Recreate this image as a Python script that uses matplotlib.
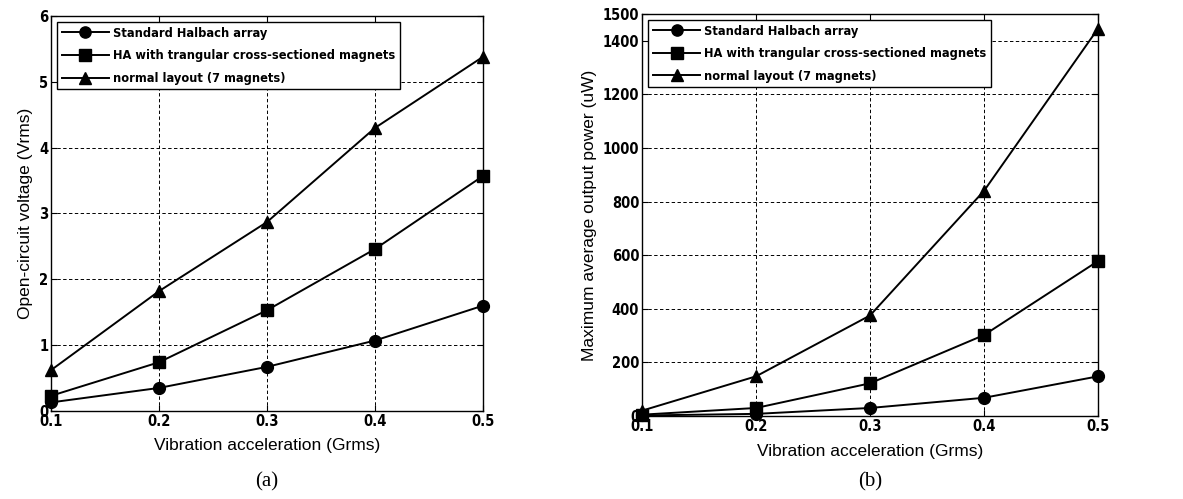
import matplotlib
matplotlib.use("Agg")
import matplotlib.pyplot as plt

# data
accel = [0.1, 0.2, 0.3, 0.4, 0.5]
names = ["Standard Halbach array",
         "HA with trangular cross-sectioned magnets",
         "normal layout (7 magnets)"]
markers = ["o", "s", "^"]

volt_halbach = [0.13, 0.35, 0.67, 1.07, 1.60]
volt_tri = [0.23, 0.74, 1.53, 2.46, 3.57]
volt_normal = [0.62, 1.82, 2.87, 4.30, 5.38]

pow_halbach = [2, 8, 30, 68, 148]
pow_tri = [5, 30, 122, 302, 578]
pow_normal = [20, 148, 375, 840, 1445]

tickfont = dict(family="DejaVu Sans", stretch="condensed", weight="bold", size=10.5)

fig = plt.figure(figsize=(11.83, 4.99), dpi=100)
ax1 = fig.add_axes([0.0431, 0.1764, 0.3652, 0.7916])
ax2 = fig.add_axes([0.5427, 0.1663, 0.3855, 0.806])


def draw(ax, series, ylim, yticks, ylabel, tag):
    for ys, m, n in zip(series, markers, names):
        ax.plot(accel, ys, color="black", lw=1.4, marker=m, ms=8.5,
                mfc="black", mec="black", label=n, clip_on=False, zorder=3)
    ax.set_xlim(0.1, 0.5)
    ax.set_ylim(*ylim)
    ax.set_xticks(accel)
    ax.set_yticks(yticks)
    ax.set_xticklabels([str(a) for a in accel], fontdict=tickfont)
    ax.set_yticklabels([str(t) for t in yticks], fontdict=tickfont)
    ax.tick_params(direction="in", length=4, width=0.8, pad=2, top=True, right=True)
    ax.grid(True, color="black", ls=(0, (3.5, 2.5)), lw=0.7)
    for s in ax.spines.values():
        s.set_linewidth(1.0)
    ax.set_xlabel("Vibration acceleration (Grms)", family="Liberation Sans",
                  size=12.5, labelpad=7)
    ax.set_ylabel(ylabel, family="Liberation Sans", size=12.5, labelpad=4)
    leg = ax.legend(loc="upper left", fancybox=False, edgecolor="black",
                    framealpha=1, borderaxespad=0.5, handlelength=3.7,
                    handletextpad=0.3, labelspacing=0.75, borderpad=0.35,
                    markerscale=0.95,
                    prop=dict(family="DejaVu Sans", stretch="condensed",
                              weight="bold", size=9.2))
    leg.get_frame().set_linewidth(1.0)
    pos = ax.get_position()
    fig.text(pos.x0 + pos.width / 2, 0.034, tag, ha="center", va="center",
             family="Liberation Serif", size=15)


draw(ax1, [volt_halbach, volt_tri, volt_normal], (0, 6), [0, 1, 2, 3, 4, 5, 6],
     "Open-circuit voltage (Vrms)", "(a)")
draw(ax2, [pow_halbach, pow_tri, pow_normal], (0, 1500),
     [0, 200, 400, 600, 800, 1000, 1200, 1400, 1500],
     "Maximum average output power (uW)", "(b)")

fig.savefig("out.png", dpi=100)
